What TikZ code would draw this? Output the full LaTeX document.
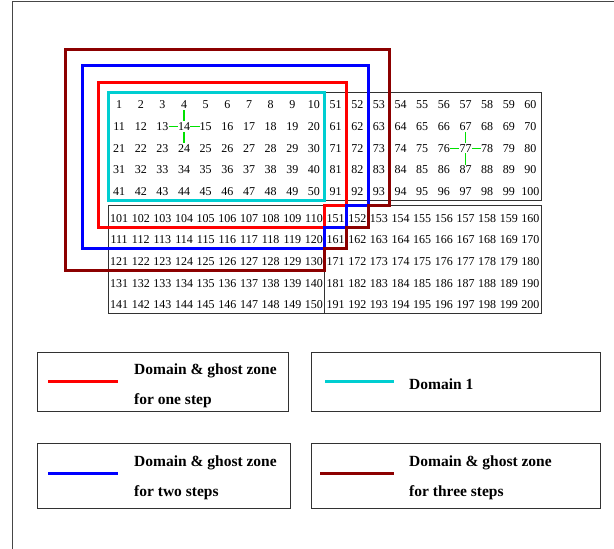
\documentclass[tikz,border=0pt]{standalone}
\usepackage{fontspec}
\setmainfont{Liberation Serif}
\definecolor{dcyan}{RGB}{0,206,209}
\definecolor{dkred}{RGB}{140,0,0}
\definecolor{lgreen}{RGB}{0,225,0}
\definecolor{gridgray}{RGB}{50,50,50}
\definecolor{framegray}{RGB}{70,70,70}
\begin{document}
\begin{tikzpicture}[x=1pt,y=-1pt,
  num/.style={font=\fontsize{12}{12}\selectfont, inner xsep=0pt, inner ysep=1pt},
  gline/.style={draw=lgreen, line width=1.4pt},
  zone/.style={line width=3pt, line join=miter},
  gridbox/.style={draw=gridgray, line width=0.8pt},
  legbox/.style={draw=gridgray, line width=0.9pt, rectangle, inner sep=0pt, anchor=north west},
  legline/.style={line width=3pt},
  legtext/.style={font=\fontsize{15.5}{18}\selectfont\bfseries, anchor=base west, inner sep=0pt},
]
\useasboundingbox (0,0) rectangle (614,549);
\draw[framegray, line width=1pt] (12,549) -- (12,1) -- (614,1);

% grid blocks
\draw[gridbox] (108.3,92.3) rectangle (324.8,200.3);
\draw[gridbox] (324.8,92.3) rectangle (541.3,200.3);
\draw[gridbox] (108.3,205.6) rectangle (324.8,313.6);
\draw[gridbox] (324.8,205.6) rectangle (541.3,313.6);

\foreach \bx/\by/\base in {108.3/92.3/0, 324.8/92.3/50, 108.3/205.6/100, 324.8/205.6/150} {
  \foreach \r in {1,...,5} {
    \foreach \c in {1,...,10} {
      \pgfmathtruncatemacro{\n}{\base+(\r-1)*10+\c}
      \node[num] (n\n) at ({\bx+(\c-0.5)*21.65},{\by+(\r-0.5)*21.6+1.9}) {\n};
    }
  }
}

% stencils
\draw[gline] (n4) -- (n14);
\draw[gline] (n13) -- (n14);
\draw[gline] (n14) -- (n15);
\draw[gline] (n14) -- (n24);
\draw[gline] (n67) -- (n77);
\draw[gline] (n76) -- (n77);
\draw[gline] (n77) -- (n78);
\draw[gline] (n77) -- (n87);

% zones
\draw[zone, draw=dcyan] (108.3,92.3) rectangle (324.8,200.3);
\draw[zone, draw=red] (98.3,82.7) -- (346.45,82.7) -- (346.45,205.6) -- (324.8,205.6) -- (324.8,227.2) -- (98.3,227.2) -- cycle;
\draw[zone, draw=blue] (82.3,65) -- (368.1,65) -- (368.1,205.6) -- (346.45,205.6) -- (346.45,227.2) -- (324.8,227.2) -- (324.8,248.8) -- (82.3,248.8) -- cycle;
\draw[zone, draw=dkred] (65.7,49.3) -- (389.75,49.3) -- (389.75,205.6) -- (368.1,205.6) -- (368.1,227.2) -- (346.45,227.2) -- (346.45,248.8) -- (324.8,248.8) -- (324.8,270.4) -- (65.7,270.4) -- cycle;

% legend
\node[legbox, minimum width=251pt, minimum height=59.3pt] (leg1) at (37.3,351.7) {};
\node[legbox, minimum width=289.3pt, minimum height=59.3pt] (leg2) at (310.7,351.7) {};
\node[legbox, minimum width=252.7pt, minimum height=65pt] (leg3) at (37.3,443.3) {};
\node[legbox, minimum width=289.3pt, minimum height=65pt] (leg4) at (310.7,443.3) {};

\coordinate (r1) at (48.3,381.7); \coordinate (r2) at (118.3,381.7);
\coordinate (c1) at (325,381.7); \coordinate (c2) at (394,381.7);
\coordinate (b1) at (48.3,473.3); \coordinate (b2) at (118.3,473.3);
\coordinate (d1) at (320,473.3); \coordinate (d2) at (394.3,473.3);
\draw[legline, red] (r1) -- (r2);
\draw[legline, dcyan] (c1) -- (c2);
\draw[legline, blue] (b1) -- (b2);
\draw[legline, dkred] (d1) -- (d2);

\node[legtext] (t1a) at (134,374) {Domain \& ghost zone};
\node[legtext] (t1b) at (134,404) {for one step};
\node[legtext] (t2) at (409,389) {Domain 1};
\node[legtext] (t3a) at (134,466) {Domain \& ghost zone};
\node[legtext] (t3b) at (134,496) {for two steps};
\node[legtext] (t4a) at (409,466) {Domain \& ghost zone};
\node[legtext] (t4b) at (409,496) {for three steps};
\end{tikzpicture}
\end{document}
